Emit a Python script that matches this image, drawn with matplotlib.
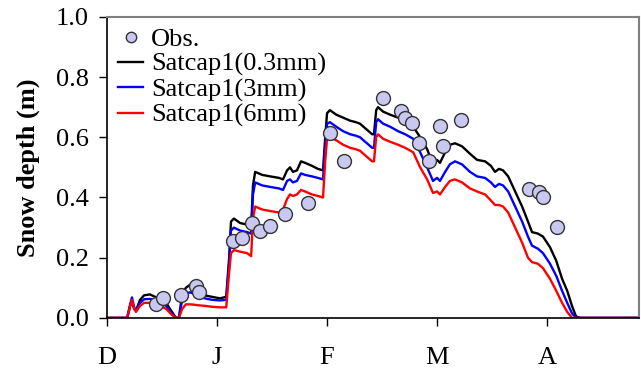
import matplotlib.pyplot as plt

plt.rcParams['font.family'] = ['Liberation Serif', 'DejaVu Serif']

# days since 1 Dec (30-day month ticks)
month_ticks = [0, 30, 60, 90, 120]
month_labels = ['D', 'J', 'F', 'M', 'A']

obs_day = [13.4, 15.3, 20.2, 24.3, 25.1, 34.4, 36.8, 39.5, 41.7, 44.5, 48.5, 54.8,
           60.8, 64.6, 75.3, 80.2, 81.3, 83.2, 85.1, 87.8, 90.8, 91.6, 96.5,
           115.1, 117.8, 118.9, 122.7]
obs_depth = [0.047, 0.066, 0.076, 0.106, 0.086, 0.256, 0.266, 0.315, 0.29, 0.305, 0.345, 0.38,
             0.615, 0.52, 0.73, 0.687, 0.665, 0.648, 0.58, 0.52, 0.638, 0.57, 0.658,
             0.428, 0.418, 0.40, 0.302]

days = [0, 5.5, 6.3, 6.8, 7.4, 7.9, 9.0, 10.1, 11.7, 13.1, 14.5, 16.1, 17.7, 18.8, 19.6,
        20.5, 21.5, 22.6, 23.7, 24.8, 26.7, 28.6, 30.8, 32.5, 33.3, 33.8, 34.6, 36.3, 38.2,
        39.3, 39.8, 40.4, 42.3, 44.5, 46.9, 48.0, 49.1, 49.9, 50.7, 51.8, 52.9, 54.0, 55.9,
        57.5, 58.9, 59.5, 60.0, 60.8, 62.5, 64.4, 66.3, 67.9, 69.0, 70.4, 72.3, 72.8, 73.4,
        73.9, 75.3, 77.2, 79.4, 81.3, 83.5, 85.4, 87.3, 88.9, 90.0, 90.8, 92.2, 93.5, 94.9,
        96.8, 99.0, 100.9, 103.1, 104.7, 105.8, 106.9, 108.0, 109.4, 111.3, 113.2, 114.8,
        115.9, 117.5, 118.9, 120.8, 122.5, 124.1, 125.5, 126.8, 127.9, 129.0, 145.4]

sat_03 = [0, 0, 0.04, 0.055, 0.03, 0.025, 0.06, 0.075, 0.078, 0.07, 0.06, 0.05, 0.02, 0.0, 0.0,
          0.08, 0.1, 0.11, 0.1, 0.085, 0.075, 0.07, 0.065, 0.07, 0.2, 0.32, 0.33, 0.315, 0.31,
          0.30, 0.44, 0.485, 0.475, 0.47, 0.465, 0.46, 0.49, 0.50, 0.485, 0.49, 0.52, 0.515, 0.505,
          0.495, 0.49, 0.6, 0.68, 0.69, 0.675, 0.665, 0.655, 0.65, 0.645, 0.63, 0.61, 0.61, 0.69,
          0.70, 0.685, 0.675, 0.665, 0.655, 0.635, 0.6, 0.56, 0.51, 0.525, 0.515, 0.55, 0.575, 0.58,
          0.57, 0.545, 0.525, 0.52, 0.505, 0.485, 0.495, 0.49, 0.47, 0.42, 0.37, 0.32,
          0.285, 0.28, 0.27, 0.235, 0.19, 0.13, 0.09, 0.04, 0.005, 0, 0]

sat_3 = [0, 0, 0.045, 0.068, 0.035, 0.025, 0.05, 0.062, 0.063, 0.06, 0.05, 0.04, 0.015, 0, 0,
         0.06, 0.08, 0.085, 0.08, 0.07, 0.065, 0.06, 0.058, 0.06, 0.18, 0.29, 0.30, 0.29, 0.285,
         0.28, 0.41, 0.45, 0.44, 0.435, 0.43, 0.425, 0.455, 0.46, 0.45, 0.455, 0.48, 0.475, 0.47,
         0.465, 0.46, 0.57, 0.645, 0.65, 0.635, 0.62, 0.61, 0.605, 0.60, 0.585, 0.565, 0.565, 0.65,
         0.66, 0.645, 0.635, 0.62, 0.61, 0.595, 0.55, 0.5, 0.455, 0.465, 0.455, 0.485, 0.51, 0.52,
         0.51, 0.485, 0.47, 0.465, 0.45, 0.435, 0.445, 0.44, 0.42, 0.37, 0.32, 0.27,
         0.24, 0.23, 0.215, 0.18, 0.14, 0.09, 0.05, 0.015, 0.0, 0, 0]

sat_6 = [0, 0, 0.04, 0.06, 0.03, 0.02, 0.04, 0.05, 0.05, 0.045, 0.04, 0.03, 0.01, 0, 0,
         0.03, 0.045, 0.045, 0.044, 0.042, 0.04, 0.037, 0.035, 0.035, 0.15, 0.215, 0.225, 0.22, 0.215,
         0.205, 0.33, 0.37, 0.36, 0.355, 0.35, 0.36, 0.395, 0.41, 0.405, 0.41, 0.425, 0.42, 0.41,
         0.405, 0.40, 0.52, 0.595, 0.60, 0.59, 0.575, 0.565, 0.56, 0.555, 0.54, 0.52, 0.52, 0.60,
         0.61, 0.595, 0.585, 0.575, 0.565, 0.55, 0.5, 0.46, 0.415, 0.42, 0.41, 0.435, 0.455, 0.46,
         0.45, 0.43, 0.42, 0.41, 0.39, 0.375, 0.375, 0.37, 0.35, 0.3, 0.25, 0.2,
         0.185, 0.18, 0.165, 0.13, 0.09, 0.05, 0.02, 0.0, 0, 0, 0]

fig = plt.figure(figsize=(6.41, 3.74), dpi=100)
ax = fig.add_axes([0.167, 0.150, 0.830, 0.805])

ax.plot(obs_day, obs_depth, 'o', ms=10, mfc='#c8c8f0', mec='#333333', mew=1.0,
        label='Obs.', zorder=3, clip_on=False)
ax.plot(days, sat_03, color='black', lw=1.7, label='Satcap1(0.3mm)', zorder=2)
ax.plot(days, sat_3, color='#0000ff', lw=1.7, label='Satcap1(3mm)', zorder=2)
ax.plot(days, sat_6, color='#ff0000', lw=1.7, label='Satcap1(6mm)', zorder=2)

ax.set_xlim(0, 145.1)
ax.set_ylim(0, 1.0)
ax.set_xticks(month_ticks)
ax.set_xticklabels(month_labels)
ax.set_yticks([0, 0.2, 0.4, 0.6, 0.8, 1.0])
ax.set_yticklabels(['0.0', '0.2', '0.4', '0.6', '0.8', '1.0'])
ax.tick_params(axis='both', direction='out', length=6, width=1, labelsize=19)
ax.tick_params(axis='x', pad=15)
ax.tick_params(axis='y', pad=7)

ax.set_ylabel('Snow depth (m)', fontsize=19, fontweight='bold')
ax.yaxis.set_label_coords(-0.126, 0.5)

for side in ['top', 'right']:
    ax.spines[side].set_color('#808080')
    ax.spines[side].set_linewidth(1.5)
for side in ['left', 'bottom']:
    ax.spines[side].set_linewidth(1.2)

leg = ax.legend(loc='upper left', bbox_to_anchor=(0.021, 0.965), frameon=False, fontsize=19,
                handlelength=0.95, handletextpad=0.3, labelspacing=0.06, borderaxespad=0,
                borderpad=0, markerscale=0.75)

fig.savefig('out.png', dpi=100)
